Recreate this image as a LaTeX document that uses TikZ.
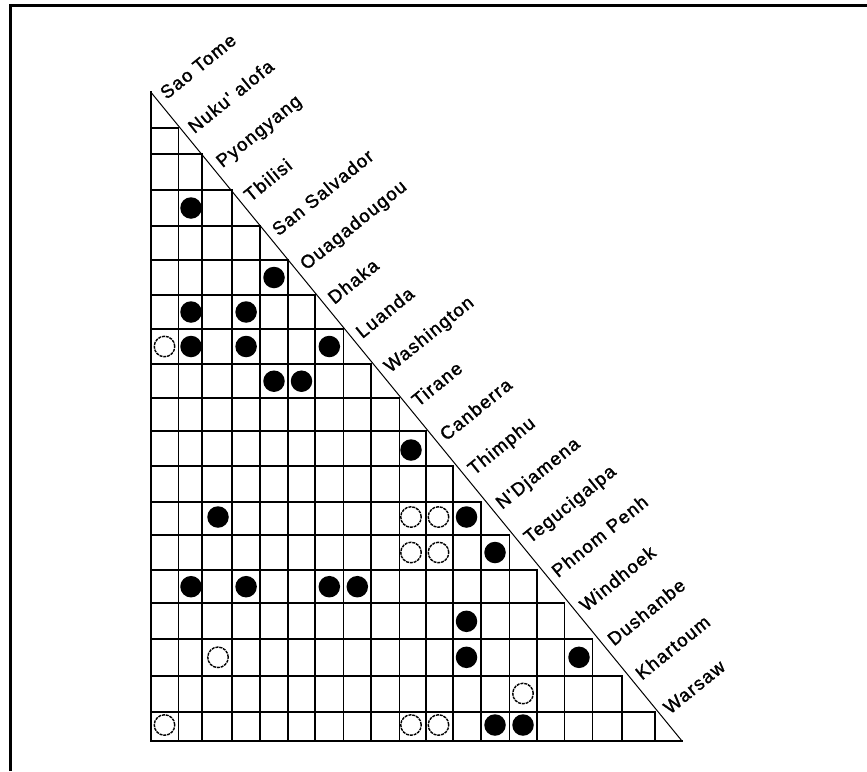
\documentclass[tikz,border=0pt]{standalone}
\usepackage{fontspec}
\newfontfamily\lblfont[LetterSpace=7,FakeBold=1.5]{Liberation Sans}
\begin{document}
\begin{tikzpicture}[x=1pt,y=-1pt,
  grid/.style={line width=1.8pt,line cap=rect},
  diag/.style={line width=1pt},
  frame/.style={line width=2.6pt},
  full/.style={circle,fill=black,inner sep=0pt,minimum size=21.5pt},
  hollow/.style={circle,draw=black,line width=1.4pt,dash pattern=on 3pt off 0.9pt,inner sep=0pt,minimum size=20.5pt},
  lbl/.style={rotate=39,anchor=base west,inner sep=0pt,font=\lblfont\fontsize{18.5}{20}\selectfont}]
\useasboundingbox (0,0) rectangle (867,771);
% frame (only top and left edges visible)
\draw[frame] (10.5,771) -- (10.5,5.5) -- (867,5.5);
% grid
\draw[grid] (150.7,92) -- (150.7,741);
\foreach \x/\y in {178.4/127.7, 202/154, 232.2/190, 260/225.7, 288/260, 315/295,
  343.5/329, 371/364, 399.5/398.3, 425.8/430.7, 453.2/465.7, 481.3/501.7,
  509.5/535, 537.2/570, 564.5/603.3, 592.5/639.3, 622/675.7, 655/711.7, 682/741}{
  \draw[grid] (150.7,\y) -- (\x,\y);
  \draw[grid] (\x,\y) -- (\x,741);
}
\draw[diag] (150.7,92) -- (682,741);
% column and row centres
\foreach \i/\x in {1/164.5,2/191,3/218,4/246.1,5/274,6/301.5,7/329.3,8/357.3,
  9/385.3,10/411,11/438.5,12/466.5,13/495,14/523,15/550.9,16/579,17/607.3,18/638.5,19/668.5}
  \coordinate (c\i) at (\x,0);
\foreach \i/\y in {1/110,2/141,3/172,4/208,5/243,6/277.5,7/312,8/346.5,9/381.2,
  10/414.5,11/450,12/483.7,13/517,14/552.5,15/586.7,16/621.3,17/657.3,18/693.5,19/725}
  \coordinate (r\i) at (0,\y);
% filled dots
\foreach \c/\r [count=\i] in {2/4,5/6,2/7,4/7,2/8,4/8,7/8,5/9,6/9,10/11,3/13,12/13,
  13/14,2/15,4/15,7/15,8/15,12/16,12/17,16/17,13/19,14/19}
  \node[full] (f\i) at (c\c |- r\r) {};
% open dots
\foreach \c/\r [count=\i] in {1/8,10/13,11/13,10/14,11/14,3/17,14/18,1/19,10/19,11/19}
  \node[hollow] (o\i) at (c\c |- r\r) {};
% labels
\foreach \t [count=\k from 0] in {Sao Tome, Nuku' alofa, Pyongyang, Tbilisi,
  San Salvador, Ouagadougou, Dhaka, Luanda, Washington, Tirane, Canberra,
  Thimphu, N'Djamena, Tegucigalpa, Phnom Penh, Windhoek, Dushanbe, Khartoum, Warsaw}
  \node[lbl] (lab\k) at ({166.5+27.965*\k},{100+34.16*\k}) {\t};
\end{tikzpicture}
\end{document}
